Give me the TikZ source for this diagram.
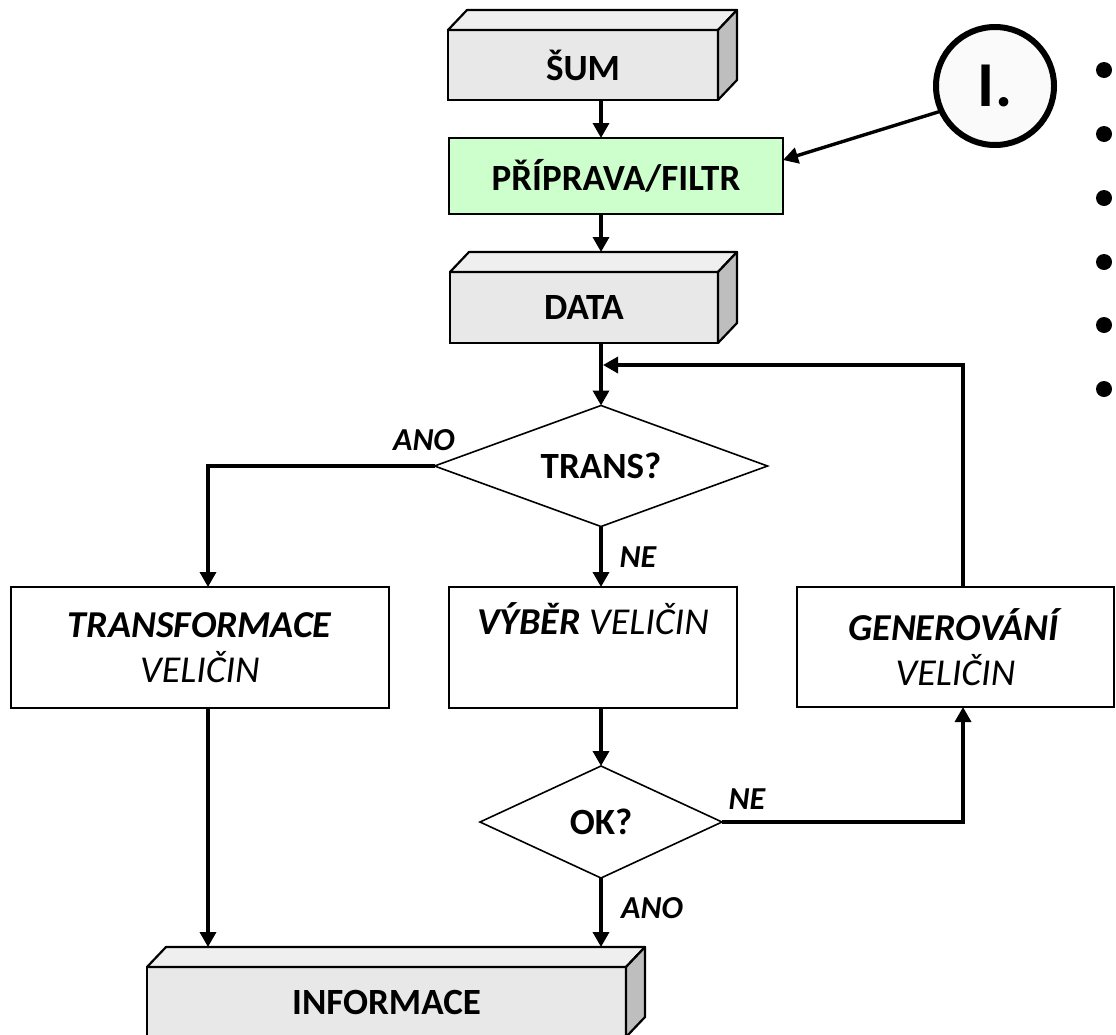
\documentclass[tikz,border=0pt]{standalone}
\usepackage{fontspec}
\setmainfont{Carlito}
\usetikzlibrary{arrows.meta,shapes.geometric,calc}
\definecolor{frontgray}{RGB}{232,232,232}
\definecolor{topgray}{RGB}{239,239,239}
\definecolor{sidegray}{RGB}{190,190,190}
\definecolor{greenfill}{RGB}{204,255,204}
\definecolor{circfill}{RGB}{250,250,250}
\begin{document}
\begin{tikzpicture}[x=1pt,y=-1pt,
  box/.style={draw,line width=2.2pt,rectangle,inner sep=0pt,outer sep=0pt,align=center},
  cube/.style={box,fill=frontgray,font=\fontsize{37}{42}\selectfont\bfseries},
  rbox/.style={box,fill=white,font=\fontsize{38}{45}\selectfont},
  dia/.style={diamond,draw,line width=1.6pt,fill=white,inner sep=0pt,outer sep=0pt,font=\fontsize{37}{42}\selectfont\bfseries},
  lab/.style={font=\fontsize{32}{36}\selectfont\bfseries\itshape,inner sep=0pt},
  face/.style={draw,line width=2.2pt,line join=round},
  arr/.style={line width=3.4pt,-{Triangle[length=15pt,width=16pt]}},
  bul/.style={circle,fill=black,inner sep=0pt,minimum size=16pt}]
\useasboundingbox (0,0) rectangle (1116,1034);

% nodes
\node[cube,minimum width=270pt,minimum height=70pt] (sum) at (583,65) {ŠUM};
\node[box,fill=greenfill,minimum width=334pt,minimum height=76pt,font=\fontsize{37}{42}\selectfont\bfseries] (prep) at (616,176) {PŘÍPRAVA/FILTR};
\node[cube,minimum width=268pt,minimum height=71pt] (data) at (584,307.5) {DATA};
\node[dia,minimum width=333pt,minimum height=121pt,shape aspect=2.75] (trans) at (601,466) {TRANS?};
\node[rbox,minimum width=378pt,minimum height=121pt] (transf) at (200,647.5) {\textbf{\textit{TRANSFORMACE}}\\\textit{VELIČIN}};
\node[rbox,minimum width=288pt,minimum height=121pt] (vyber) at (593,647.5) {\textit{\textbf{VÝBĚR} VELIČIN}\\\strut};
\node[rbox,minimum width=317pt,minimum height=120pt] (gen) at (955.5,647) {\textbf{\textit{GENEROVÁNÍ}}\\\textit{VELIČIN}};
\node[dia,minimum width=242pt,minimum height=112pt,shape aspect=2.16] (ok) at (601,822) {OK?};
\node[cube,minimum width=479pt,minimum height=70pt] (info) at (386.5,1002) {INFORMACE};
\node[circle,draw,line width=6pt,fill=circfill,minimum size=118pt,inner sep=0pt,outer sep=0pt,font=\fontsize{64}{70}\selectfont\bfseries] (circ) at (995,86) {I.};

% 3D faces
\foreach \n in {sum,data,info}{
  \path[face,fill=topgray] (\n.north west) -- ([shift={(19pt,20pt)}]\n.north west) -- ([shift={(19pt,20pt)}]\n.north east) -- (\n.north east) -- cycle;
  \path[face,fill=sidegray] (\n.north east) -- ([shift={(19pt,20pt)}]\n.north east) -- ([shift={(19pt,20pt)}]\n.south east) -- (\n.south east) -- cycle;
  \coordinate (\n-top) at ([yshift=20pt]\n.north);
}

% labels
\node[lab] (ano1) at (424,440) {ANO};
\node[lab] (ne1) at (638,557) {NE};
\node[lab] (ne2) at (747,799) {NE};
\node[lab] (ano2) at (652,908) {ANO};

% bullets
\foreach \i/\yy in {1/70,2/134,3/198,4/262,5/325,6/389}{
  \node[bul] (b\i) at (1104,\yy) {};
}

% helper coordinates
\coordinate (lx) at (208,0);
\coordinate (gx) at (963,0);
\coordinate (join) at (603,365);

% connectors
\draw[arr] (sum.south -| trans.north) -- (prep.north -| trans.north);
\draw[arr] (prep.south -| trans.north) -- (data-top -| trans.north);
\draw[arr] (data.south -| trans.north) -- (trans.north);
\draw[arr] (gen.north -| gx) |- (join);
\draw[arr] (trans.west) -| (transf.north -| lx);
\draw[arr] (trans.south) -- (vyber.north -| trans.south);
\draw[arr] (vyber.south -| ok.north) -- (ok.north);
\draw[arr] (ok.east) -| (gen.south -| gx);
\draw[arr] (ok.south) -- (info-top -| ok.south);
\draw[arr] (transf.south -| lx) -- (info-top -| lx);
\draw[arr] (circ.205) -- ([yshift=16pt]prep.east);
\end{tikzpicture}
\end{document}
